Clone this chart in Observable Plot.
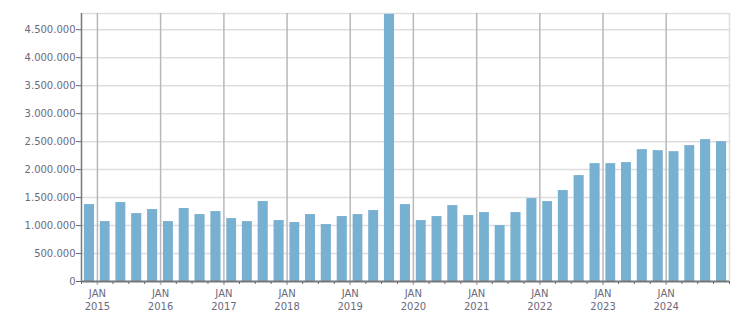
<!DOCTYPE html>
<html><head><meta charset="utf-8">
<script src="https://cdn.jsdelivr.net/npm/d3@7"></script>
<script src="https://cdn.jsdelivr.net/npm/@observablehq/plot@0.6"></script>
<style>body{margin:0;background:#fff}</style>
</head><body><div id="chart"></div>
<script>
const quarters = [
  "2014-Q4",
  "2015-Q1","2015-Q2","2015-Q3","2015-Q4",
  "2016-Q1","2016-Q2","2016-Q3","2016-Q4",
  "2017-Q1","2017-Q2","2017-Q3","2017-Q4",
  "2018-Q1","2018-Q2","2018-Q3","2018-Q4",
  "2019-Q1","2019-Q2","2019-Q3","2019-Q4",
  "2020-Q1","2020-Q2","2020-Q3","2020-Q4",
  "2021-Q1","2021-Q2","2021-Q3","2021-Q4",
  "2022-Q1","2022-Q2","2022-Q3","2022-Q4",
  "2023-Q1","2023-Q2","2023-Q3","2023-Q4",
  "2024-Q1","2024-Q2","2024-Q3","2024-Q4"
];
const values = [
  1375000,
  1071000,1411000,1214000,1286000,
  1071000,1304000,1196000,1250000,
  1125000,1071000,1429000,1089000,
  1054000,1196000,1018000,1161000,
  1196000,1268000,4775000,1375000,
  1089000,1161000,1357000,1179000,
  1232000,1000000,1232000,1482000,
  1429000,1625000,1893000,2107000,
  2107000,2125000,2357000,2339000,
  2321000,2429000,2536000,2500000
];
const yearLabels = ["2015","2016","2017","2018","2019","2020","2021","2022","2023","2024"];
const yTicks = [0,500000,1000000,1500000,2000000,2500000,3000000,3500000,4000000,4500000];
const yMax = 4790000;

const qStart = q => { const [y, n] = q.split("-Q"); return new Date(Date.UTC(+y, (+n - 1) * 3, 1)); };
const qEnd = q => { const d = qStart(q); return new Date(Date.UTC(d.getUTCFullYear(), d.getUTCMonth() + 3, 1)); };
const data = quarters.map((q, i) => ({q, start: qStart(q), end: qEnd(q), value: values[i]}));
const xStart = data[0].start, xEnd = data[data.length - 1].end;
const quarterTicks = data.map(d => d.start).concat([xEnd]);
const yearTicks = yearLabels.map(y => new Date(Date.UTC(+y, 0, 1)));

const loc = d3.formatLocale({decimal: ",", thousands: ".", grouping: [3], currency: ["", ""]});
const fmt = loc.format(",d");

const chart = Plot.plot({
  width: 751, height: 313,
  marginLeft: 81, marginRight: 22, marginTop: 13, marginBottom: 32,
  style: {fontFamily: "DejaVu Sans", fontSize: "10px", color: "#6a6a7c", background: "#fff"},
  x: {type: "utc", domain: [xStart, xEnd], axis: null},
  y: {domain: [0, yMax], axis: null},
  marks: [
    Plot.gridY(yTicks.slice(1), {stroke: "#dedede", strokeOpacity: 1, strokeWidth: 1.5}),
    Plot.ruleY([yMax], {stroke: "#dedede", strokeWidth: 1.5}),
    Plot.ruleX([xEnd], {stroke: "#dedede", strokeWidth: 1.5}),
    Plot.gridX(yearTicks, {stroke: "#b8b8b8", strokeOpacity: 1, strokeWidth: 1.5}),
    Plot.rectY(data, {x1: "start", x2: "end", y: "value", fill: "#78b0d2", insetLeft: 2.9, insetRight: 2.9}),
    Plot.axisX(quarterTicks, {tickSize: 3, stroke: "#666", tickFormat: () => "", label: null}),
    Plot.axisX(yearTicks, {tickSize: 4, stroke: "#b8b8b8", strokeWidth: 1.5, tickPadding: 3, lineHeight: 1.25,
      tickFormat: d => "JAN\n" + d.getUTCFullYear(), label: null}),
    Plot.axisY(yTicks, {tickSize: 5, tickPadding: 1, stroke: "#666", tickFormat: fmt, label: null}),
    Plot.ruleY([0], {stroke: "#777", strokeWidth: 2}),
    Plot.ruleX([xStart], {stroke: "#777", strokeWidth: 1.5})
  ]
});
document.getElementById("chart").appendChild(chart);
</script>
</body></html>
